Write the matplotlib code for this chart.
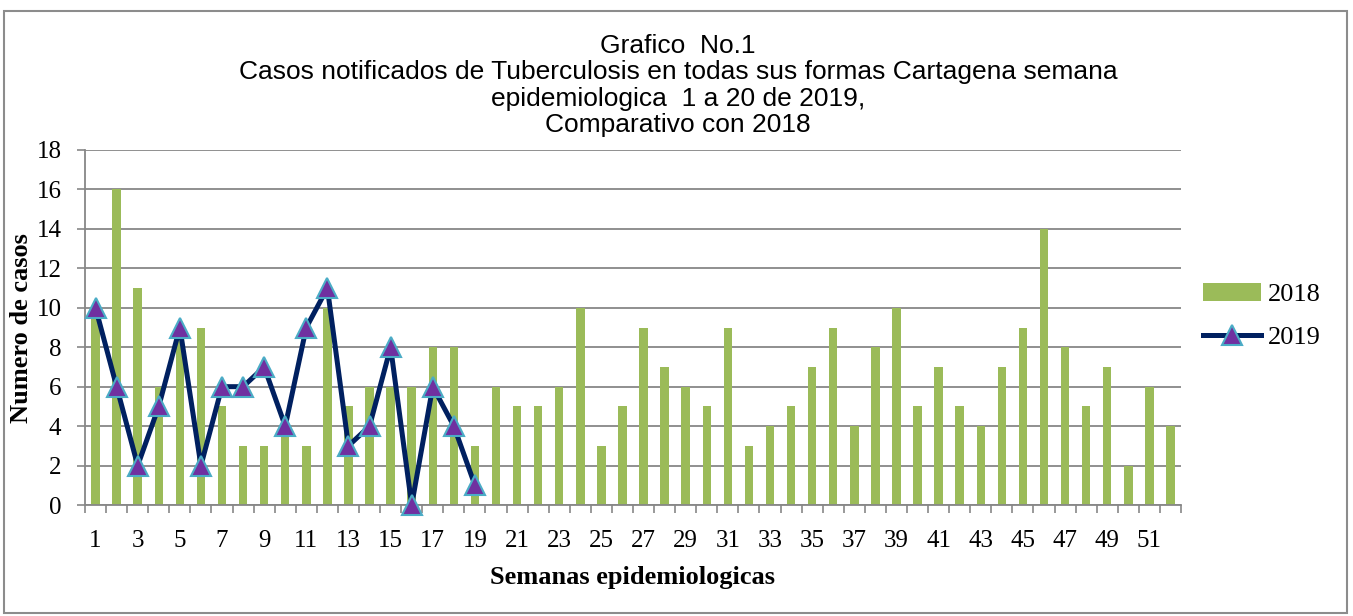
"""Grafico No.1 - casos de tuberculosis por semana epidemiologica, Cartagena 2018 vs 2019."""
import matplotlib
matplotlib.use("Agg")
import matplotlib.pyplot as plt
from matplotlib.patches import Rectangle
import numpy as np

# --- data ---
weeks = list(range(1, 53))
cases_2018 = [10, 16, 11, 6, 9, 9, 5, 3, 3, 4, 3, 10, 5, 6, 6, 6, 8, 8, 3, 6,
              5, 5, 6, 10, 3, 5, 9, 7, 6, 5, 9, 3, 4, 5, 7, 9, 4, 8, 10, 5,
              7, 5, 4, 7, 9, 14, 8, 5, 7, 2, 6, 4]
weeks_2019 = list(range(1, 20))
cases_2019 = [10, 6, 2, 5, 9, 2, 6, 6, 7, 4, 9, 11, 3, 4, 8, 0, 6, 4, 1]
xtick_labels = [str(w) for w in range(1, 52, 2)]
yticks = list(range(0, 19, 2))

title_lines = [
    "Grafico  No.1",
    "Casos notificados de Tuberculosis en todas sus formas Cartagena semana",
    "epidemiologica  1 a 20 de 2019,",
    "Comparativo con 2018",
]

SERIF = "Liberation Serif"
SANS = "Liberation Sans"
GREEN = "#9BBB59"
NAVY = "#002060"
GRID = "#878787"

W, H = 1353, 616
fig = plt.figure(figsize=(W / 100, H / 100), dpi=100)
fig.patch.set_facecolor("white")

# outer chart border
fig.patches.append(Rectangle((4 / W, 1 - 613 / H), 1343 / W, 602 / H,
                             transform=fig.transFigure, fill=False,
                             edgecolor="#8c8c8c", lw=1.5))

ax = fig.add_axes([85 / W, 1 - 505 / H, 1096 / W, 355 / H])

bars = ax.bar(weeks, cases_2018, width=0.4, color=GREEN, zorder=2, label="2018")
line, = ax.plot(weeks_2019, cases_2019, color=NAVY, lw=3.6, marker="^",
                markersize=15, markerfacecolor="#7030A0",
                markeredgecolor="#4BACC6", markeredgewidth=1.5, zorder=3,
                label="2019", clip_on=False)

ax.set_xlim(0.5, 52.5)
ax.set_ylim(0, 18)
ax.set_yticks(yticks)
ax.set_yticklabels([str(v) for v in yticks], fontfamily=SERIF, fontsize=18)
ax.yaxis.grid(True, color=GRID, lw=1.3, zorder=1)

# category labels on odd weeks, tick marks between categories
ax.set_xticks(range(1, 52, 2))
ax.set_xticklabels(xtick_labels, fontfamily=SERIF, fontsize=18)
ax.set_xticks(np.arange(0.5, 53, 1.0), minor=True)
ax.tick_params(axis="x", which="major", length=0, pad=18)
ax.tick_params(axis="x", which="minor", length=6, color=GRID, width=1.2)
ax.tick_params(axis="y", length=6, color=GRID, width=1.2, pad=11)

for side in ("top", "right"):
    ax.spines[side].set_visible(False)
for side in ("left", "bottom"):
    ax.spines[side].set_color(GRID)
    ax.spines[side].set_linewidth(1.3)

ax.set_xlabel("Semanas epidemiologicas", fontfamily=SERIF, fontsize=19,
              fontweight="bold", labelpad=10)
fig.text(22 / W, 1 - 328 / H, "Numero de casos", rotation=90,
         ha="center", va="center", fontfamily=SERIF, fontsize=19,
         fontweight="bold")

for i, txt in enumerate(title_lines):
    fig.text(678 / W, 1 - (46 + 26.3 * i) / H, txt, ha="center", va="center",
             fontfamily=SANS, fontsize=19)

ax.legend(handles=[bars, line], labels=["2018", "2019"],
          loc="center left", bbox_to_anchor=(1203 / W, 1 - 316 / H),
          bbox_transform=fig.transFigure, frameon=False,
          prop={"family": SERIF, "size": 19}, handlelength=2.2,
          handletextpad=0.25, labelspacing=0.75, borderpad=0,
          borderaxespad=0)

fig.savefig("out.png", dpi=100)
